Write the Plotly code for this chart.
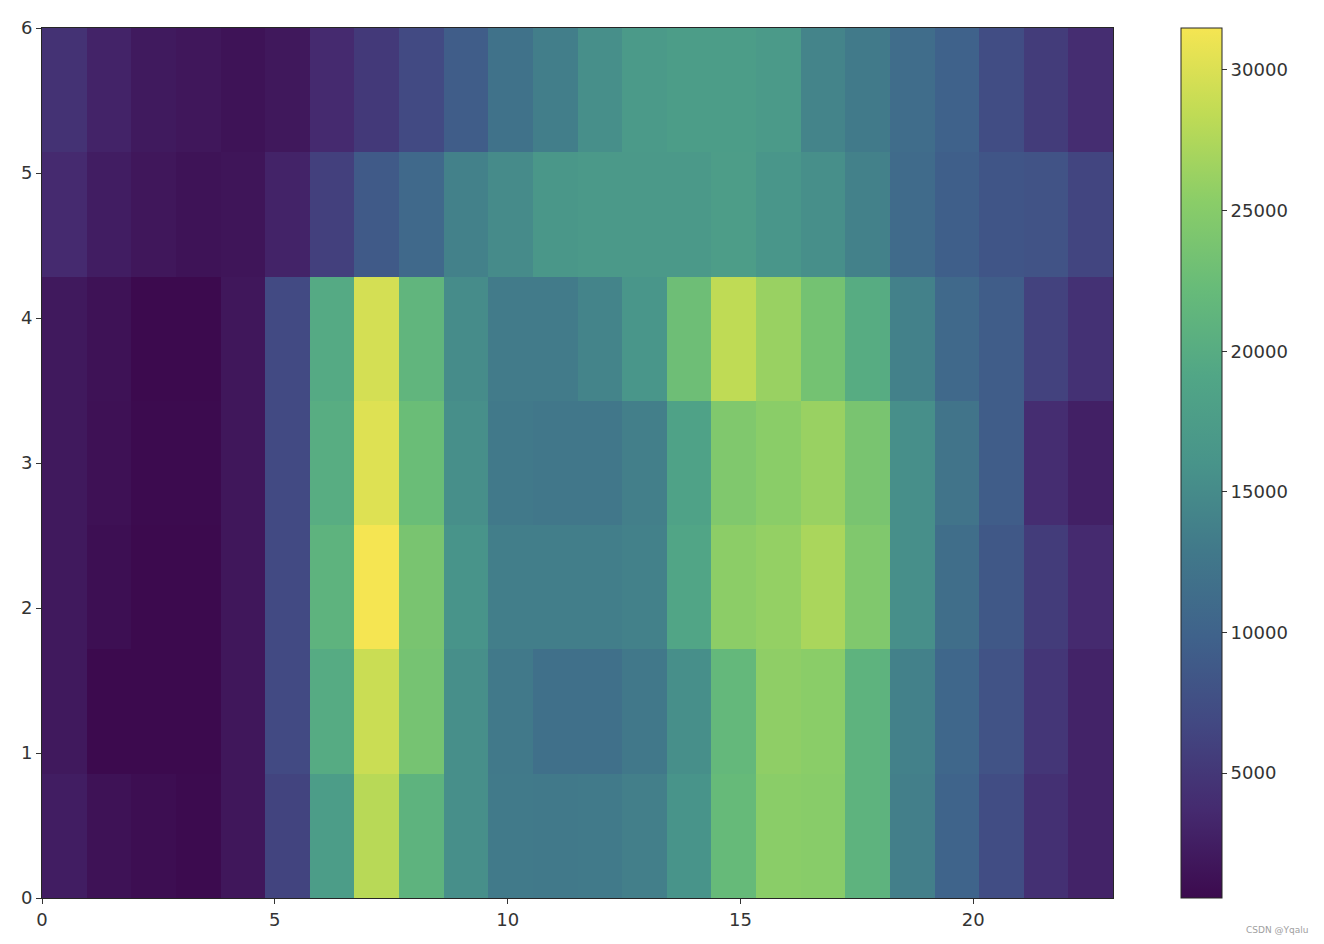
import numpy as np
import plotly.graph_objects as go

hours = list(range(24))
days = list(range(7))

# rows listed bottom (day 0) to top (day 6), 24 hourly values each
day0 = [2400, 1300, 900, 700, 1800, 6300, 17500, 28000, 21000, 15500, 13000, 12900,
        13000, 13600, 16000, 22100, 25300, 25100, 21000, 13600, 10100, 7300, 4300, 3000]
day1 = [2000, 600, 600, 600, 1800, 7000, 19800, 29000, 23500, 15500, 12900, 11700,
        11700, 12800, 15500, 21800, 25600, 25300, 21000, 13900, 10500, 8000, 4900, 3000]
day2 = [2000, 1000, 600, 600, 1800, 7000, 21000, 31490, 23800, 16000, 13500, 13500,
        13500, 13800, 19000, 25400, 25900, 27200, 24400, 15500, 11400, 8600, 5500, 3700]
day3 = [2000, 1200, 700, 700, 1800, 7000, 20100, 30200, 22500, 15500, 12900, 12700,
        12700, 13600, 18500, 24400, 25300, 26200, 23800, 15500, 12300, 9200, 4000, 2700]
day4 = [2000, 1300, 560, 600, 1800, 7000, 19700, 29600, 21300, 15100, 13200, 13200,
        14200, 16300, 22800, 28400, 26200, 23400, 20000, 13900, 10800, 9200, 6100, 4400]
day5 = [3700, 2400, 1800, 1400, 1600, 3000, 5900, 8900, 10800, 13800, 15000, 16600,
        16900, 16900, 16900, 17600, 16400, 15500, 13800, 11000, 9500, 8300, 8000, 6400]
day6 = [4500, 3000, 2100, 1800, 1400, 1900, 3700, 5200, 7000, 9200, 12000, 13500,
        15500, 17000, 17500, 17500, 17000, 14200, 13000, 11300, 9800, 7300, 5500, 4000]

z = [day0, day1, day2, day3, day4, day5, day6]

x_ticks = [0, 5, 10, 15, 20]
y_ticks = [0, 1, 2, 3, 4, 5, 6]
cbar_ticks = [5000, 10000, 15000, 20000, 25000, 30000]

# viridis as it appears in the reference (slightly muted)
colorscale = [
    [0.0, "#3c0a4e"],
    [0.1, "#452a6f"],
    [0.2, "#424882"],
    [0.3, "#3f628b"],
    [0.4, "#41798a"],
    [0.5, "#48948a"],
    [0.6, "#51a686"],
    [0.7, "#67bb79"],
    [0.8, "#8acd68"],
    [0.9, "#bfdb55"],
    [1.0, "#f5e552"],
]

# cell edges: 24 columns spread over 0..23, 7 rows spread over 0..6
x_edges = np.linspace(0, 23, len(hours) + 1)
y_edges = np.linspace(0, 6, len(days) + 1)

font = dict(family="DejaVu Sans", size=18, color="#333333")

fig = go.Figure(go.Heatmap(
    z=z,
    x=x_edges,
    y=y_edges,
    colorscale=colorscale,
    showscale=True,
    colorbar=dict(
        x=1.0635, xanchor="left", xref="paper", xpad=0, ypad=0,
        y=0.5, yanchor="middle", len=1.0, lenmode="fraction",
        thickness=41, thicknessmode="pixels",
        outlinewidth=1, outlinecolor="#262626",
        tickvals=cbar_ticks, tickformat="d", ticks="outside", ticklen=5,
        tickcolor="#333333", tickfont=font,
    ),
))

axis_common = dict(
    showgrid=False, zeroline=False, showline=True, linecolor="#262626", linewidth=1,
    mirror=True, ticks="outside", ticklen=5, tickcolor="#333333", tickfont=font,
    automargin=False,
)
fig.update_xaxes(range=[0, 23], tickvals=x_ticks, **axis_common)
fig.update_yaxes(range=[0, 6], tickvals=y_ticks, **axis_common)

fig.add_annotation(
    text="CSDN @Yqalu", xref="paper", yref="paper", x=1.184, y=-0.029,
    xanchor="right", yanchor="top", showarrow=False,
    font=dict(family="DejaVu Sans", size=9, color="#a0a0a0"),
)

fig.update_layout(
    width=1308, height=928,
    margin=dict(l=34, r=203, t=20, b=38, autoexpand=False),
    paper_bgcolor="white", plot_bgcolor="white",
    font=font,
)

fig.write_html("out.html")
